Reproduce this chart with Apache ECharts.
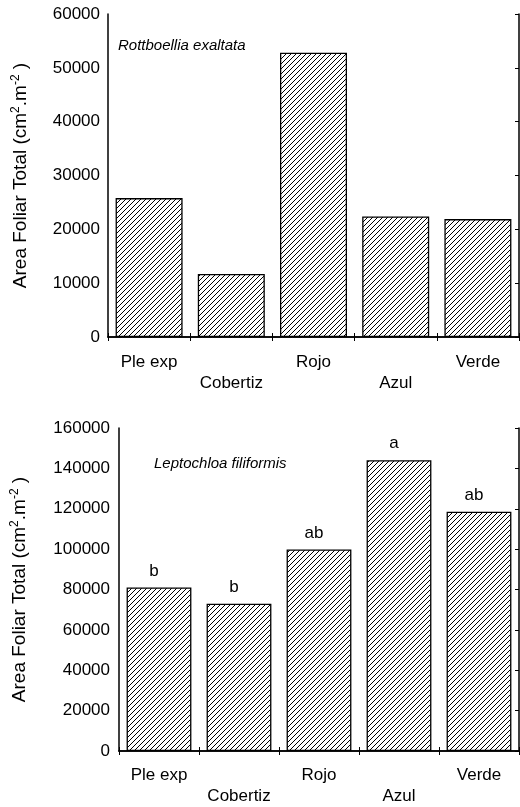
<!DOCTYPE html>
<html>
<head>
<meta charset="utf-8">
<script src="https://cdn.jsdelivr.net/npm/echarts@6/dist/echarts.min.js"></script>
<style>
html,body{margin:0;padding:0;background:#fff;}
#c{width:520px;height:807px;}
</style>
</head>
<body>
<div id="c"></div>
<script>
const categories = ['Ple exp', 'Cobertiz', 'Rojo', 'Azul', 'Verde'];
const rottboelliaValues = [25800, 11700, 52800, 22400, 21900];
const leptochloaValues = [81000, 73000, 99800, 144000, 118500];
const leptochloaLetters = ['b', 'b', 'ab', 'a', 'ab'];
const topTicks = { min: 0, max: 60000, interval: 10000 };
const bottomTicks = { min: 0, max: 160000, interval: 20000 };

const FONT = '"Liberation Sans", Arial, sans-serif';

function hatch() {
  const s = 5;
  const c = document.createElement('canvas');
  c.width = s; c.height = s;
  const g = c.getContext('2d');
  g.fillStyle = '#fff';
  g.fillRect(0, 0, s, s);
  g.fillStyle = '#000';
  for (let i = 0; i < s; i++) g.fillRect(i, s - 1 - i, 1, 1);
  return c;
}
const pattern = { image: hatch(), repeat: 'repeat' };

const lineStyle = { color: '#000', width: 1.5 };

function xAxes(gridIndex, margin) {
  return [
    {
      type: 'category', gridIndex, position: 'bottom', data: categories,
      axisLine: { show: true, lineStyle },
      axisTick: { show: true, inside: true, length: 4, lineStyle: { color: '#000', width: 1 } },
      axisLabel: {
        interval: 0, fontSize: 17, fontFamily: FONT, color: '#000', lineHeight: 21, margin,
        formatter: (v, i) => (i % 2 ? '\n' + v : v)
      },
      splitLine: { show: false }
    },
    {
      type: 'category', gridIndex, position: 'top', data: categories,
      axisLine: { show: true, lineStyle },
      axisTick: { show: true, inside: true, length: 4, lineStyle: { color: '#000', width: 1 } },
      axisLabel: { show: false },
      splitLine: { show: false }
    }
  ];
}

const nameRich = {
  sup: { fontSize: 12, fontFamily: FONT, color: '#000', padding: [0, 0, 9, 0] }
};

function yAxes(gridIndex, ticks, nameGap, margin) {
  return [
    {
      type: 'value', gridIndex, position: 'left', min: ticks.min, max: ticks.max, interval: ticks.interval,
      axisLine: { show: true, lineStyle },
      axisTick: { show: false },
      axisLabel: { fontSize: 17, fontFamily: FONT, color: '#000', margin, formatter: v => String(v) },
      splitLine: { show: false },
      name: 'Area Foliar Total (cm{sup|2}.m{sup|-2} )',
      nameLocation: 'middle', nameGap,
      nameTextStyle: { fontSize: 19, fontFamily: FONT, color: '#000', rich: nameRich }
    },
    {
      type: 'value', gridIndex, position: 'right', min: ticks.min, max: ticks.max, interval: ticks.interval,
      axisLine: { show: true, lineStyle },
      axisTick: { show: true, inside: true, length: 4, lineStyle: { color: '#000', width: 1 } },
      axisLabel: { show: false },
      splitLine: { show: false }
    }
  ];
}

const chart = echarts.init(document.getElementById('c'), null, { renderer: 'canvas' });
chart.setOption({
  animation: false,
  backgroundColor: '#fff',
  title: [
    { text: 'Rottboellia exaltata', left: 113, top: 33,
      textStyle: { fontSize: 15, fontStyle: 'italic', fontWeight: 'normal', fontFamily: FONT, color: '#000' } },
    { text: 'Leptochloa filiformis', left: 149, top: 451,
      textStyle: { fontSize: 15, fontStyle: 'italic', fontWeight: 'normal', fontFamily: FONT, color: '#000' } }
  ],
  grid: [
    { left: 108, top: 14, width: 411, height: 323, containLabel: false, outerBoundsMode: 'none' },
    { left: 119, top: 428, width: 400, height: 323, containLabel: false, outerBoundsMode: 'none' }
  ],
  xAxis: [...xAxes(0, 15), ...xAxes(1, 14)],
  yAxis: [...yAxes(0, topTicks, 77, 8), ...yAxes(1, bottomTicks, 89, 9)],
  series: [
    {
      type: 'bar', xAxisIndex: 0, yAxisIndex: 0, data: rottboelliaValues,
      barCategoryGap: '18.5%',
      itemStyle: { color: pattern, borderColor: '#000', borderWidth: 1.3 }
    },
    {
      type: 'bar', xAxisIndex: 2, yAxisIndex: 2, data: leptochloaValues,
      barCategoryGap: '19%',
      itemStyle: { color: pattern, borderColor: '#000', borderWidth: 1.3 },
      label: {
        show: true, position: 'top', distance: 8, offset: [-5, 0], fontSize: 17, fontFamily: FONT, color: '#000',
        formatter: p => leptochloaLetters[p.dataIndex]
      }
    }
  ]
});
</script>
</body>
</html>
